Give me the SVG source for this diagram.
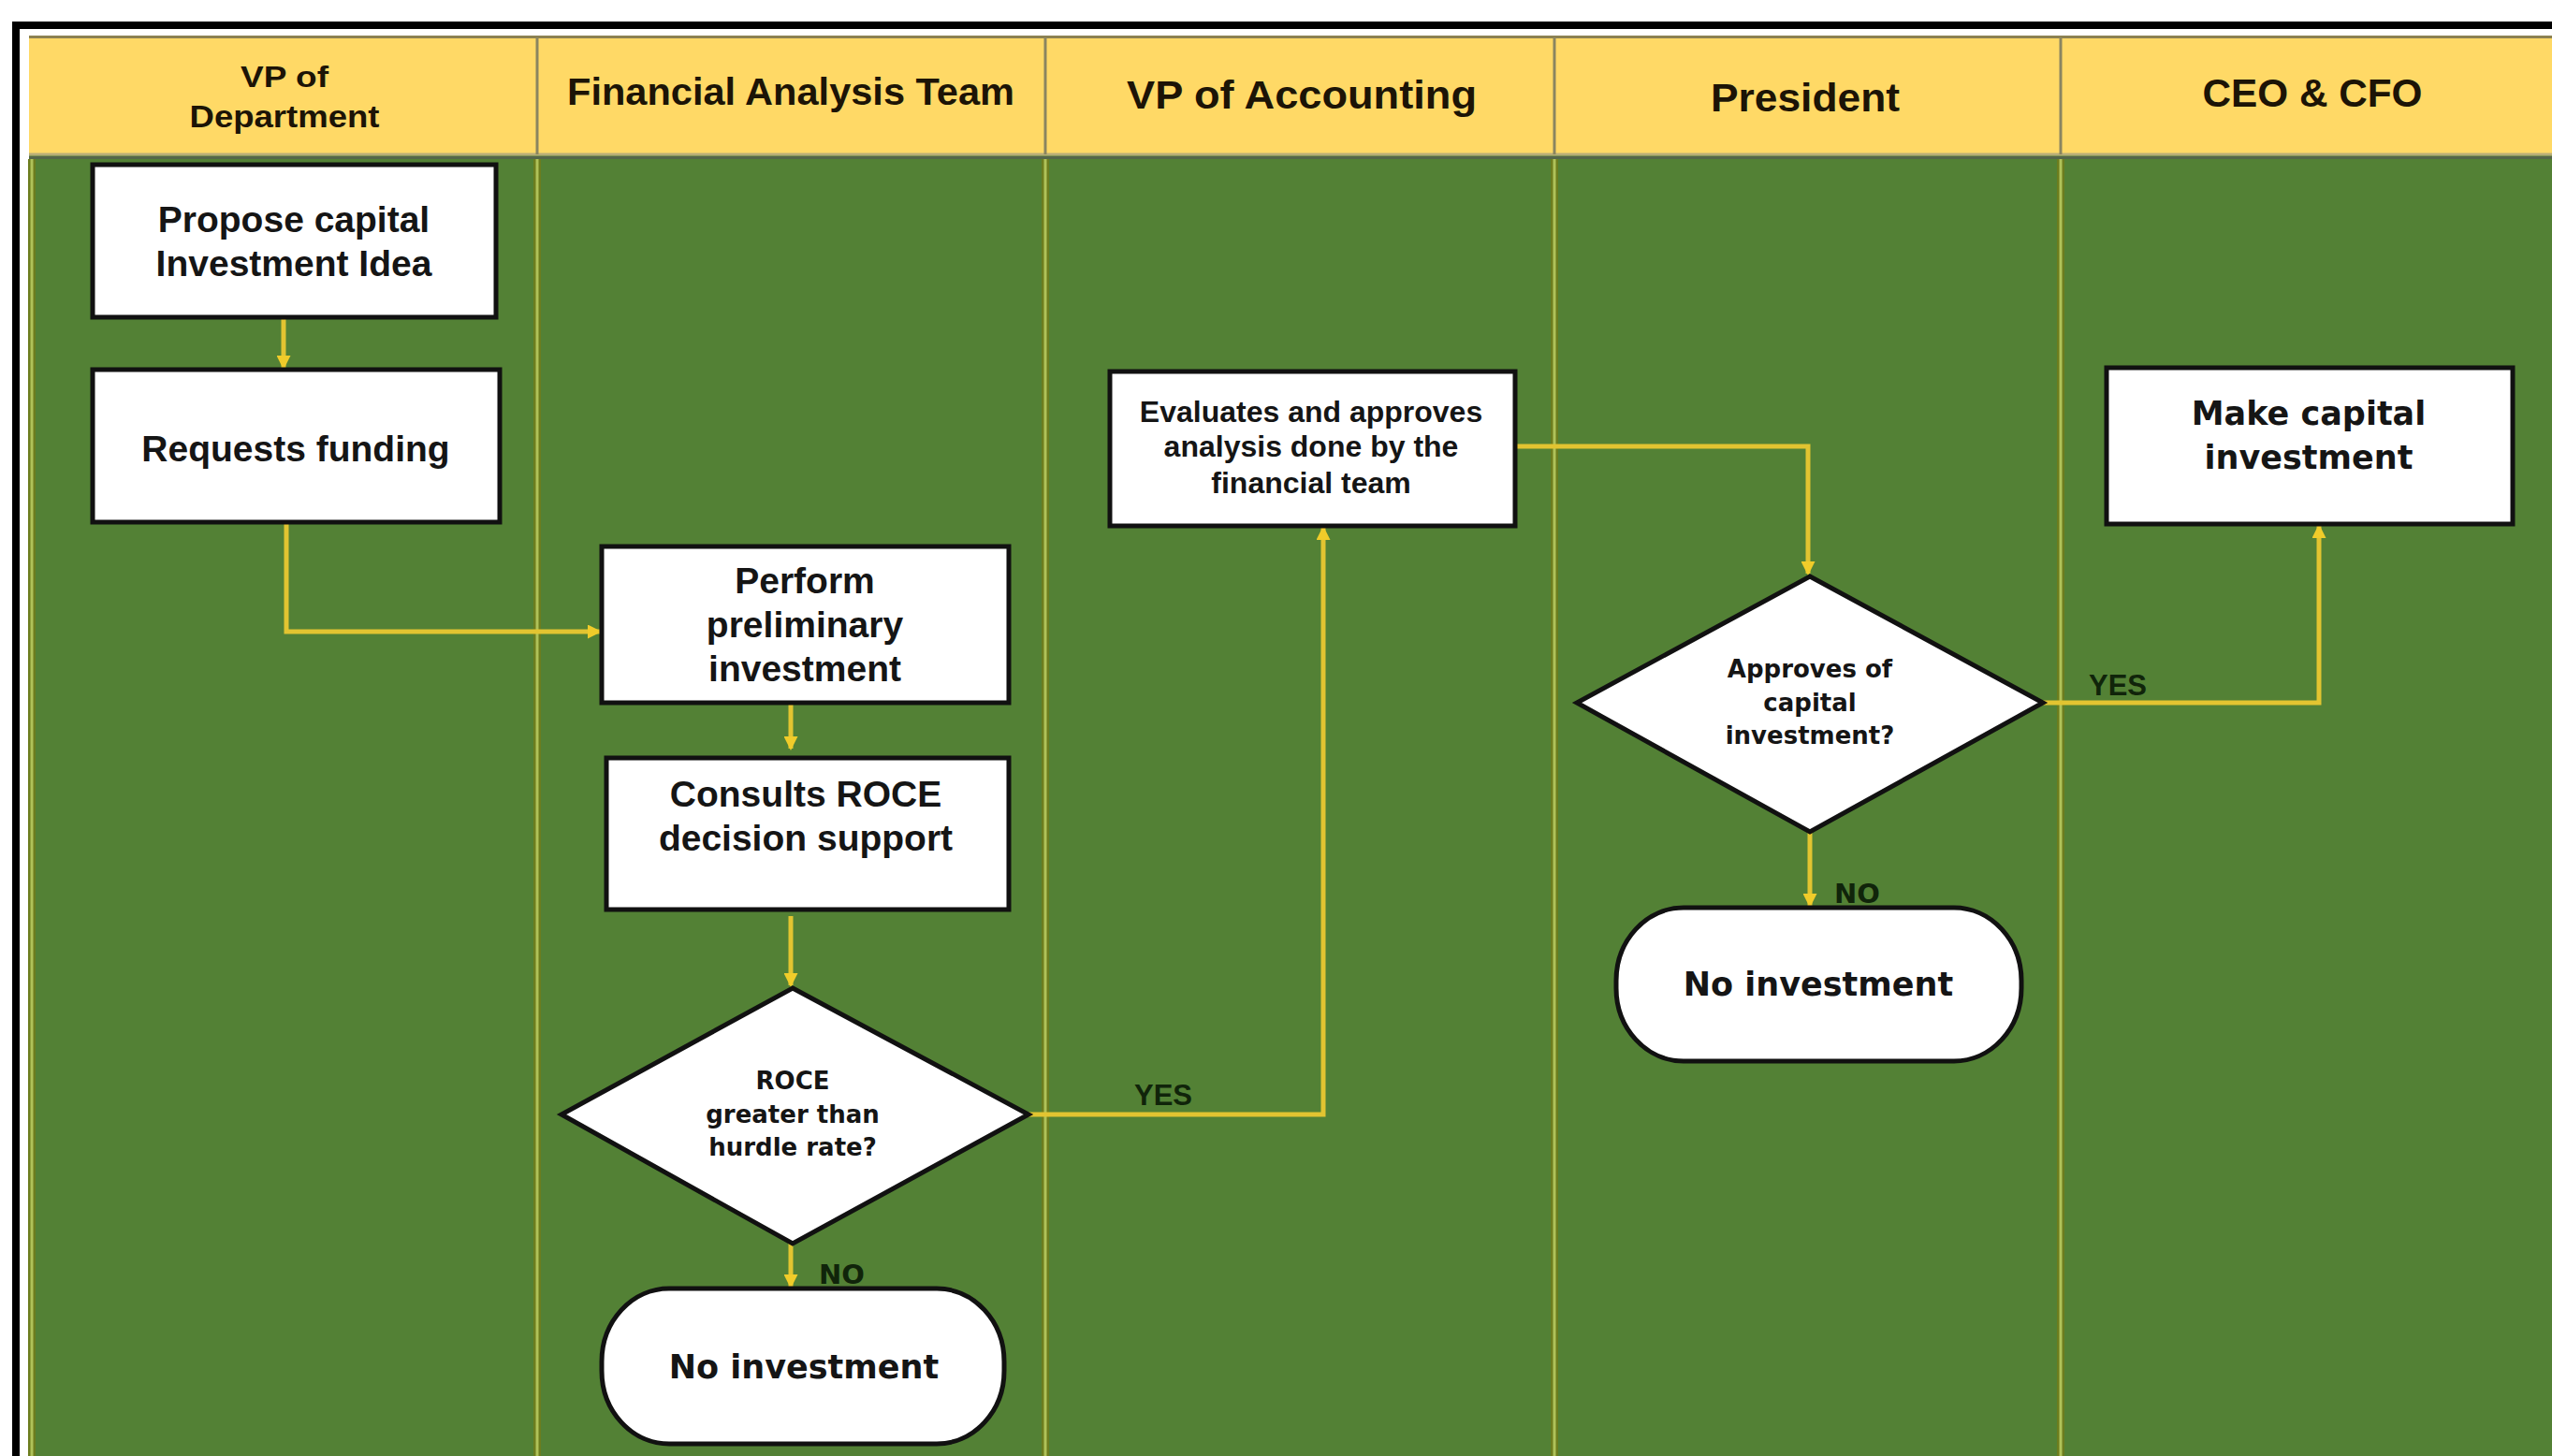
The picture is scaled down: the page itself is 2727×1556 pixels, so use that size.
<svg xmlns="http://www.w3.org/2000/svg" width="2727" height="1556" viewBox="0 0 2727 1556">
<style>
.hdr{font-family:"Liberation Sans",Arial,sans-serif;font-weight:bold;fill:#1c1406;text-anchor:middle}
.box{fill:#ffffff;stroke:#111111;stroke-width:5}
.t{font-family:"Liberation Sans",Arial,sans-serif;font-weight:bold;font-size:39px;fill:#151515;text-anchor:middle}
.v{font-family:"DejaVu Sans",Verdana,sans-serif;font-weight:bold;fill:#151515;text-anchor:middle}
.conn{fill:none;stroke:#E2C431;stroke-width:5;stroke-linejoin:miter}
.lbl{font-family:"Liberation Sans",Arial,sans-serif;font-weight:bold;font-size:31px;fill:#10240a}
.lblv{font-family:"DejaVu Sans",Verdana,sans-serif;font-weight:bold;font-size:29px;fill:#10240a}
.divo{stroke:#6C7D1E;stroke-width:8}
.divi{stroke:#AFC259;stroke-width:3}
.divh{stroke:#8A8560;stroke-width:3}
</style>
<defs>
<marker id="ah" markerWidth="3" markerHeight="3" refX="2.6" refY="1.5" orient="auto" markerUnits="strokeWidth">
<path d="M0,0 L3,1.5 L0,3 z" fill="#F0CC2A"/>
</marker>
</defs>

<rect x="0" y="0" width="2727" height="1556" fill="#ffffff"/>
<g id="frame">
<rect x="17" y="27" width="2800" height="1600" fill="#ffffff" stroke="#000000" stroke-width="8"/>
<rect x="31" y="38" width="2720" height="128" fill="#FFD966"/>
<line x1="31" y1="39.5" x2="2727" y2="39.5" stroke="#8C8152" stroke-width="3"/>
<rect x="31" y="166" width="2720" height="1400" fill="#538135"/>
<line x1="31" y1="165" x2="2727" y2="165" stroke="#B8AE78" stroke-width="3"/>
<line x1="31" y1="168.5" x2="2727" y2="168.5" stroke="#55664A" stroke-width="3"/>
</g>

<g id="lanes">
<line class="divh" x1="574" y1="40" x2="574" y2="165"/>
<line class="divh" x1="1117" y1="40" x2="1117" y2="165"/>
<line class="divh" x1="1661" y1="40" x2="1661" y2="165"/>
<line class="divh" x1="2202" y1="40" x2="2202" y2="165"/>
<line class="divo" x1="34" y1="170" x2="34" y2="1556"/>
<line class="divi" x1="34" y1="170" x2="34" y2="1556"/>
<line class="divo" x1="574" y1="170" x2="574" y2="1556"/>
<line class="divi" x1="574" y1="170" x2="574" y2="1556"/>
<line class="divo" x1="1117" y1="170" x2="1117" y2="1556"/>
<line class="divi" x1="1117" y1="170" x2="1117" y2="1556"/>
<line class="divo" x1="1661" y1="170" x2="1661" y2="1556"/>
<line class="divi" x1="1661" y1="170" x2="1661" y2="1556"/>
<line class="divo" x1="2202" y1="170" x2="2202" y2="1556"/>
<line class="divi" x1="2202" y1="170" x2="2202" y2="1556"/>
<text class="hdr" x="304" y="93" font-size="31" textLength="94" lengthAdjust="spacingAndGlyphs">VP of</text>
<text class="hdr" x="304" y="136" font-size="33" textLength="203" lengthAdjust="spacingAndGlyphs">Department</text>
<text class="hdr" x="845" y="112" font-size="40" textLength="478" lengthAdjust="spacingAndGlyphs">Financial Analysis Team</text>
<text class="hdr" x="1391" y="116" font-size="43" textLength="374" lengthAdjust="spacingAndGlyphs">VP of Accounting</text>
<text class="hdr" x="1929" y="119" font-size="43" textLength="202" lengthAdjust="spacingAndGlyphs">President</text>
<text class="hdr" x="2471" y="114" font-size="43" textLength="235" lengthAdjust="spacingAndGlyphs">CEO &amp; CFO</text>
</g>

<g id="connectors">
<path class="conn" d="M303,339 L303,393" marker-end="url(#ah)"/>
<path class="conn" d="M306,558 L306,675 L641,675" marker-end="url(#ah)"/>
<path class="conn" d="M845,751 L845,800" marker-end="url(#ah)"/>
<path class="conn" d="M845,979 L845,1053" marker-end="url(#ah)"/>
<path class="conn" d="M845,1329 L845,1375" marker-end="url(#ah)"/>
<path class="conn" d="M1099,1191 L1414,1191 L1414,564" marker-end="url(#ah)"/>
<path class="conn" d="M1619,477 L1932,477 L1932,613" marker-end="url(#ah)"/>
<path class="conn" d="M1934,889 L1934,968" marker-end="url(#ah)"/>
<path class="conn" d="M2183,751 L2478,751 L2478,562" marker-end="url(#ah)"/>
<text class="lbl" x="1212" y="1181">YES</text>
<text class="lblv" x="875" y="1372">NO</text>
<text class="lblv" x="1960" y="965">NO</text>
<text class="lbl" x="2232" y="743">YES</text>
</g>

<g id="n-propose">
<rect class="box" x="99" y="176" width="431" height="163"/>
<text class="t" x="314" y="248">Propose capital</text>
<text class="t" x="314" y="295">Investment Idea</text>
</g>
<g id="n-request">
<rect class="box" x="99" y="395" width="435" height="163"/>
<text class="t" x="316" y="493">Requests funding</text>
</g>
<g id="n-perform">
<rect class="box" x="643" y="584" width="435" height="167"/>
<text class="t" x="860" y="634">Perform</text>
<text class="t" x="860" y="681">preliminary</text>
<text class="t" x="860" y="728">investment</text>
</g>
<g id="n-consult">
<rect class="box" x="648" y="810" width="430" height="162" stroke-width="14"/>
<text class="t" x="861" y="862">Consults ROCE</text>
<text class="t" x="861" y="909">decision support</text>
</g>
<g id="n-roce">
<polygon class="box" points="847,1056 1099,1191 847,1329 600,1191" stroke-width="4"/>
<text class="v" x="847" y="1164" font-size="26">ROCE</text>
<text class="v" x="847" y="1200" font-size="26">greater than</text>
<text class="v" x="847" y="1235" font-size="26">hurdle rate?</text>
</g>
<g id="n-noinv1">
<rect class="box" x="643" y="1377" width="430" height="166" rx="72" ry="78"/>
<text class="v" x="859" y="1473" font-size="35">No investment</text>
</g>
<g id="n-evaluate">
<rect class="box" x="1186" y="397" width="433" height="165"/>
<text class="t" x="1401" y="451" style="font-size:32px">Evaluates and approves</text>
<text class="t" x="1401" y="488" style="font-size:32px">analysis done by the</text>
<text class="t" x="1401" y="527" style="font-size:32px">financial team</text>
</g>
<g id="n-approve">
<polygon class="box" points="1934,616 2183,751 1934,889 1685,751" stroke-width="4"/>
<text class="v" x="1934" y="724" font-size="26">Approves of</text>
<text class="v" x="1934" y="760" font-size="26">capital</text>
<text class="v" x="1934" y="795" font-size="26">investment?</text>
</g>
<g id="n-noinv2">
<rect class="box" x="1727" y="970" width="433" height="164" rx="72" ry="78"/>
<text class="v" x="1943" y="1064" font-size="35">No investment</text>
</g>
<g id="n-make">
<rect class="box" x="2251" y="393" width="434" height="167"/>
<text class="v" x="2467" y="454" font-size="35">Make capital</text>
<text class="v" x="2467" y="501" font-size="35">investment</text>
</g>
</svg>
